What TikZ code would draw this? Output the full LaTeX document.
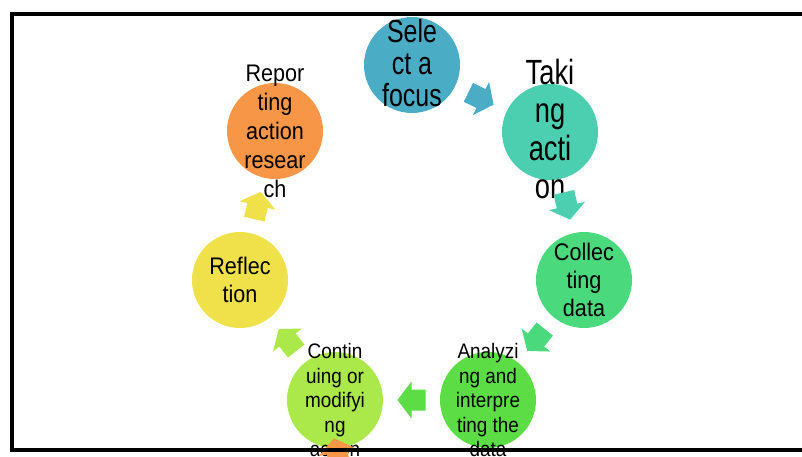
\documentclass[tikz,border=0pt]{standalone}
\usepackage{fontspec}
\setmainfont{Liberation Sans}
\newfontfamily\condA[FakeStretch=0.78]{Liberation Sans}
\newfontfamily\condB[FakeStretch=0.9]{Liberation Sans}
\usetikzlibrary{calc}
\definecolor{cselect}{HTML}{4BACC6}
\definecolor{ctaking}{HTML}{4CCFB0}
\definecolor{ccollect}{HTML}{4AD97C}
\definecolor{canalyze}{HTML}{5CDD46}
\definecolor{ccontinue}{HTML}{ABE84A}
\definecolor{creflect}{HTML}{F0E14A}
\definecolor{creport}{HTML}{F79646}
\tikzset{
  stage/.style={circle, minimum size=96pt, inner sep=0pt, draw=none},
  stagetext/.style={align=center, inner sep=0pt, text=black},
  pics/blockarr/.style={code={
    \fill[#1] (-14,-10.5) -- (0,-10.5) -- (0,-18.5) -- (14,0) -- (0,18.5) -- (0,10.5) -- (-14,10.5) -- cycle;}},
  frameline/.style={line width=4pt, black, line join=miter},
}
\newcommand\stagearrow[3]{%
  \path let \p1=(#1), \p2=(#2), \n1={atan2(\y2-\y1,\x2-\x1)} in
    ($(#1)!0.5!(#2)$) pic[rotate=\n1] {blockarr=#3};}
\begin{document}
\begin{tikzpicture}[x=1pt,y=-1pt]
\useasboundingbox (0,0) rectangle (802,456);
\clip (0,0) rectangle (802,456);
% stages
\node[stage, fill=cselect]   (c1) at (412,65)  {};
\node[stage, fill=ctaking]   (c2) at (550,132) {};
\node[stage, fill=ccollect]  (c3) at (584,280) {};
\node[stage, fill=canalyze]  (c4) at (488,400) {};
\node[stage, fill=ccontinue] (c5) at (335,400) {};
\node[stage, fill=creflect]  (c6) at (240,280) {};
\node[stage, fill=creport]   (c7) at (275,131) {};
% texts
\node[stagetext, font=\condA\fontsize{32}{32}\selectfont, yshift=2pt] (t1) at (c1) {Sele\\ct a\\focus};
\node[stagetext, font=\condA\fontsize{35}{38}\selectfont, yshift=3pt] (t2) at (c2) {Taki\\ng\\acti\\on};
\node[stagetext, font=\condB\fontsize{24}{28}\selectfont] (t3) at (c3) {Collec\\ting\\data};
\node[stagetext, font=\condB\fontsize{21}{24.5}\selectfont] (t4) at (c4) {Analyzi\\ng and\\interpre\\ting the\\data};
\node[stagetext, font=\condB\fontsize{21}{24.5}\selectfont] (t5) at (c5) {Contin\\uing or\\modifyi\\ng\\action};
\node[stagetext, font=\condB\fontsize{24}{28}\selectfont] (t6) at (c6) {Reflec\\tion};
\node[stagetext, font=\condB\fontsize{24}{29}\selectfont] (t7) at (c7) {Repor\\ting\\action\\resear\\ch};
% block arrows
\stagearrow{c1}{c2}{cselect}
\stagearrow{c2}{c3}{ctaking}
\stagearrow{c3}{c4}{ccollect}
\stagearrow{c4}{c5}{canalyze}
\stagearrow{c5}{c6}{ccontinue}
\stagearrow{c6}{c7}{creflect}
\coordinate (stray) at (337,452);
\path (stray) pic[rotate=102] {blockarr=creport};
% frame
\draw[frameline] (802,14) -- (11.5,14) -- (11.5,450) -- (802,450);
\end{tikzpicture}
\end{document}
